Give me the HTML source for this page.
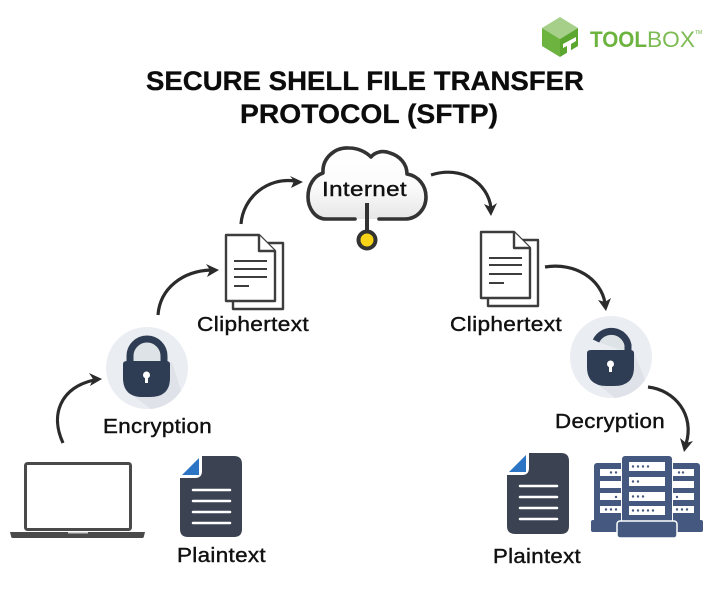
<!DOCTYPE html>
<html><head><meta charset="utf-8"><style>
html,body{margin:0;padding:0;background:#fff;width:720px;height:594px;overflow:hidden}
svg{display:block}
text{font-family:"Liberation Sans",sans-serif;fill:#111}
.l{font-size:20px;letter-spacing:.3px;stroke:#111;stroke-width:.4px}
.t{font-size:27px;font-weight:bold;fill:#0c0c0c;stroke:#0c0c0c;stroke-width:.3px}
.a{fill:none;stroke:#2b2b2b;stroke-width:3.2;stroke-linecap:butt}
.h{fill:#2b2b2b;stroke:none}
.d{fill:#fff;stroke:#3d3d3d;stroke-width:2.4;stroke-linejoin:round}
.n{stroke:#3d3d3d;stroke-width:2;fill:none}
.w{stroke:#fff;stroke-width:2.5;stroke-linecap:round}
.s{fill:#45587f}
.r{fill:#fff}
</style></head><body>
<svg width="720" height="594" viewBox="0 0 720 594" xmlns="http://www.w3.org/2000/svg">
<rect width="720" height="594" fill="#fff"/>
<defs>
<linearGradient id="cg" x1="0" y1="0" x2="0" y2="1"><stop offset="0" stop-color="#fff"/><stop offset=".55" stop-color="#fbfbfb"/><stop offset="1" stop-color="#e6e6e6"/></linearGradient>
</defs>
<!-- logo -->
<polygon points="560,17 578,28 560,39 542,28" fill="#a6cf8a"/>
<polygon points="542,28 560,39 560,57 542,46" fill="#6cb33f"/>
<polygon points="578,28 560,39 560,57 578,46" fill="#5aa62f"/>
<polygon points="563,44 576,37 576,41 571,44 571,54 567,56 567,46 563,48" fill="#fff"/>
<text x="590" y="47" style="font-size:22px;font-weight:bold;fill:#6cb33f" textLength="57" lengthAdjust="spacingAndGlyphs">TOOL</text>
<text x="647" y="47" style="font-size:22px;fill:#7dbb55" textLength="48" lengthAdjust="spacingAndGlyphs">BOX</text>
<text x="695" y="34" style="font-size:5px;fill:#6cb33f">TM</text>
<!-- title -->
<text class="t" x="146" y="90" textLength="438" lengthAdjust="spacingAndGlyphs">SECURE SHELL FILE TRANSFER</text>
<text class="t" x="240" y="123" textLength="258" lengthAdjust="spacingAndGlyphs">PROTOCOL (SFTP)</text>
<!-- cloud -->
<path d="M355,219 H326 C315,219 308,208 308,197 C308,185 314,176 323,173 C322,158 335,147 349,148 C358,148 366,152 371,157 C375,152 383,150 390,153 C400,156 407,164 407,174 C419,176 426,186 426,197 C426,209 417,219 405,219 H379" fill="url(#cg)" stroke="#333" stroke-width="3.600" stroke-linecap="round" stroke-linejoin="round"/>
<line x1="367" y1="203" x2="367" y2="232" stroke="#333" stroke-width="4"/>
<circle cx="367" cy="240" r="8.500" fill="#f7d417" stroke="#333" stroke-width="4"/>
<text class="l" x="322" y="196" textLength="85" lengthAdjust="spacingAndGlyphs">Internet</text>
<!-- left doc -->
<rect class="d" x="233" y="243" width="50" height="66"/>
<path class="d" d="M226,235 H259 L275,251 V301 H226 Z"/>
<path class="d" d="M259,235 V251 H275"/>
<path class="n" d="M234,261 H267 M234,269 H267 M234,277 H267 M234,286 H249"/>
<text class="l" x="197" y="331" textLength="112" lengthAdjust="spacingAndGlyphs">Cliphertext</text>
<!-- right doc -->
<rect class="d" x="488" y="240" width="50" height="66"/>
<path class="d" d="M481,232 H514 L530,248 V298 H481 Z"/>
<path class="d" d="M514,232 V248 H530"/>
<path class="n" d="M489,258 H522 M489,265 H522 M489,274 H522 M489,283 H504"/>
<text class="l" x="450" y="331" textLength="112" lengthAdjust="spacingAndGlyphs">Cliphertext</text>
<!-- lock left -->
<circle cx="147" cy="368" r="41" fill="#eaedf1"/>
<path d="M147,368 L172,362 L181,391 A41,41 0 0 1 151,409 L132,395 Z" fill="#dfe3e9"/>
<path d="M130,364 V356 A17,17 0 0 1 164,356 V364" fill="#dde3e6" stroke="#2e3d53" stroke-width="7"/>
<path d="M123,364 Q123,361 127,361 H166 Q170,361 170,364 V378 Q170,397 150,397 H143 Q123,397 123,378 Z" fill="#2e3d53"/>
<circle cx="146.500" cy="375" r="3.500" fill="#fff"/><rect x="145" y="375" width="3" height="8" fill="#fff"/>
<text class="l" x="103" y="433" textLength="109" lengthAdjust="spacingAndGlyphs">Encryption</text>
<!-- lock right -->
<circle cx="611" cy="357" r="41" fill="#eaedf1"/>
<path d="M611,357 L634,352 L645,380 A41,41 0 0 1 615,398 L596,383 Z" fill="#dfe3e9"/>
<path d="M596,341 A17,17 0 0 1 628,345 V353" fill="#dde3e6" stroke="#2e3d53" stroke-width="7"/>
<path d="M587,353 Q587,350 591,350 H630 Q634,350 634,353 V367 Q634,386 614,386 H607 Q587,386 587,367 Z" fill="#2e3d53"/>
<circle cx="610.500" cy="364" r="3.500" fill="#fff"/><rect x="609" y="364" width="3" height="8" fill="#fff"/>
<text class="l" x="555" y="428" textLength="110" lengthAdjust="spacingAndGlyphs">Decryption</text>
<!-- laptop -->
<rect x="25.500" y="463.500" width="105" height="66" rx="2" fill="#fff" stroke="#4a4a4a" stroke-width="3"/>
<path d="M10,532 H145 L144,536 Q144,538 142,538 H13 Q11,538 11,536 Z" fill="#4a4a4a"/>
<rect x="68" y="532" width="20" height="1.500" fill="#ccc"/>
<!-- dark doc left -->
<path d="M202,456 H234 Q242,456 242,464 V529 Q242,537 234,537 H188 Q180,537 180,529 V478 H195 Q202,478 202,471 Z" fill="#3b4352"/>
<polygon points="182,475 199,458 199,475" fill="#2c74c4"/>
<path class="w" d="M193,490 H230 M193,501 H230 M193,512 H230 M193,523 H230"/>
<text class="l" x="177" y="562" textLength="89" lengthAdjust="spacingAndGlyphs">Plaintext</text>
<!-- dark doc right -->
<path d="M529,453 H561 Q569,453 569,461 V526 Q569,534 561,534 H515 Q507,534 507,526 V475 H522 Q529,475 529,468 Z" fill="#3b4352"/>
<polygon points="509,472 526,455 526,472" fill="#2c74c4"/>
<path class="w" d="M520,486 H557 M520,497 H557 M520,508 H557 M520,519 H557"/>
<text class="l" x="493" y="563" textLength="88" lengthAdjust="spacingAndGlyphs">Plaintext</text>
<!-- server -->
<rect class="s" x="594" y="463" width="48" height="60" rx="3"/>
<rect class="s" x="652" y="463" width="48" height="60" rx="3"/>
<rect class="r" x="600" y="469" width="40" height="7"/><rect class="r" x="600" y="481" width="40" height="7"/><rect class="r" x="600" y="493" width="40" height="7"/><rect class="r" x="600" y="506" width="40" height="7"/>
<rect class="r" x="654" y="469" width="40" height="7"/><rect class="r" x="654" y="481" width="40" height="7"/><rect class="r" x="654" y="493" width="40" height="7"/><rect class="r" x="654" y="506" width="40" height="7"/>
<rect class="s" x="591" y="520" width="50" height="12" rx="2"/>
<rect class="s" x="653" y="520" width="50" height="12" rx="2"/>
<rect x="621" y="455" width="52" height="76" fill="#fff"/>
<rect class="s" x="622" y="456" width="50" height="72" rx="3"/>
<rect class="r" x="629" y="462" width="36" height="9"/><rect class="r" x="629" y="477" width="36" height="9"/><rect class="r" x="629" y="492" width="36" height="9"/><rect class="r" x="629" y="506" width="36" height="9"/>
<g fill="#45587f">
<circle cx="633" cy="466.500" r="1.200"/><circle cx="638" cy="466.500" r="1.200"/><circle cx="643" cy="466.500" r="1.200"/><circle cx="648" cy="466.500" r="1.200"/>
<circle cx="633" cy="481.500" r="1.200"/><circle cx="638" cy="481.500" r="1.200"/>
<circle cx="633" cy="496.500" r="1.200"/><circle cx="638" cy="496.500" r="1.200"/><circle cx="643" cy="496.500" r="1.200"/>
<circle cx="633" cy="510.500" r="1.200"/><circle cx="638" cy="510.500" r="1.200"/><circle cx="643" cy="510.500" r="1.200"/><circle cx="648" cy="510.500" r="1.200"/><circle cx="653" cy="510.500" r="1.200"/>
<circle cx="611" cy="472.500" r="1.200"/><circle cx="616" cy="472.500" r="1.200"/>
<circle cx="616" cy="497" r="1.200"/>
<circle cx="606" cy="509.500" r="1.200"/><circle cx="611" cy="509.500" r="1.200"/><circle cx="616" cy="509.500" r="1.200"/>
<circle cx="679" cy="472.500" r="1.200"/><circle cx="683" cy="472.500" r="1.200"/>
<circle cx="677" cy="497" r="1.200"/>
<circle cx="677" cy="509.500" r="1.200"/><circle cx="682" cy="509.500" r="1.200"/><circle cx="687" cy="509.500" r="1.200"/>
</g>
<rect x="617" y="521" width="60" height="17" rx="3" fill="#45587f" stroke="#fff" stroke-width="1.500"/>
<!-- arrows -->
<path class="a" d="M63,443 C50,415 60,388 94,380"/>
<path class="h" d="M102,379 L89,373 L93,379 L90,386 Z"/>
<path class="a" d="M158,315 C160,288 183,271 211,270"/>
<path class="h" d="M219,270 L206,264 L210,270 L207,277 Z"/>
<path class="a" d="M241,224 C243,197 268,177 295,181"/>
<path class="h" d="M303,182 L290,176 L294,181 L291,188 Z"/>
<path class="a" d="M431,175 C462,165 488,183 491,208"/>
<path class="h" d="M491,216 L497,203 L491,207 L484,204 Z"/>
<path class="a" d="M545,267 C575,262 601,279 605,303"/>
<path class="h" d="M606,311 L611,298 L605,302 L598,300 Z"/>
<path class="a" d="M648,387 C675,390 695,415 686,444"/>
<path class="h" d="M684,452 L693,441 L686,443 L680,438 Z"/>
</svg>
</body></html>
